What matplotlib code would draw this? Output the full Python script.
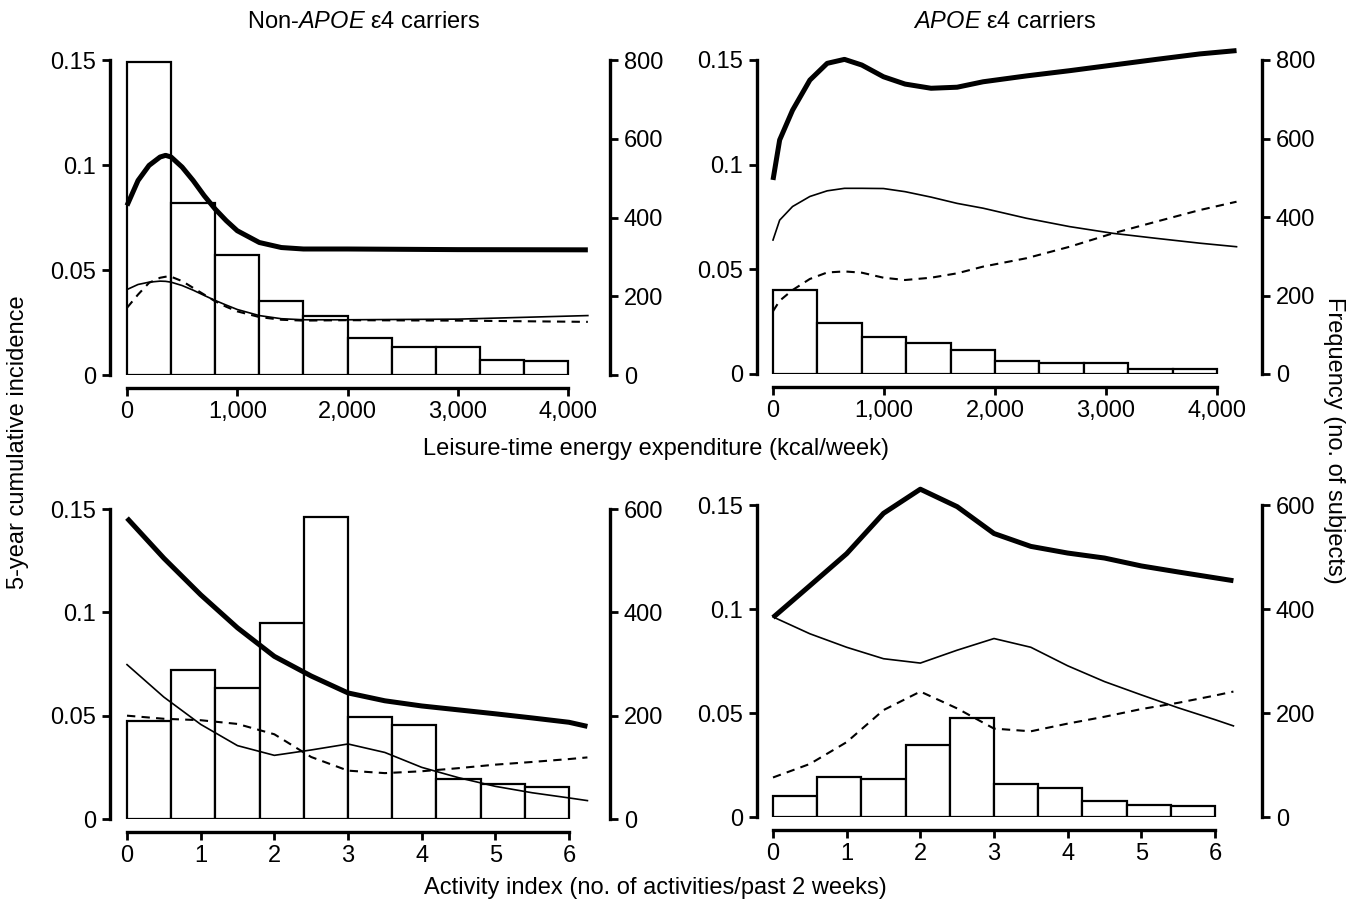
import numpy as np
import matplotlib
matplotlib.use("Agg")
import matplotlib.pyplot as plt

plt.rcParams['font.family'] = ['Liberation Sans', 'DejaVu Sans']
plt.rcParams['mathtext.fontset'] = 'custom'
plt.rcParams['mathtext.rm'] = 'Liberation Sans'
plt.rcParams['mathtext.it'] = 'Liberation Sans:italic'

# ---- leisure-time energy expenditure (kcal/week) ----
kcal_bins = [0, 400, 800, 1200, 1600, 2000, 2400, 2800, 3200, 3600]
kcal_bin_width = 400
freq_kcal_non = [795, 437, 304, 187, 149, 95, 70, 70, 38, 36]
freq_kcal_e4 = [214, 131, 94, 78, 61, 33, 27, 27, 12, 14]

kcal_x_non = [0, 100, 200, 300, 350, 400, 500, 600, 700, 800, 900, 1000, 1200, 1400, 1600, 2000, 3000, 4180]
non_all = [0.0807, 0.0926, 0.0998, 0.1038, 0.1046, 0.1038, 0.099, 0.0926, 0.0854, 0.079, 0.0735, 0.0687,
           0.0631, 0.0607, 0.060, 0.060, 0.0597, 0.0596]
non_ad = [0.0407, 0.0431, 0.0442, 0.0447, 0.0446, 0.0442, 0.0426, 0.0404, 0.0379, 0.0355, 0.0333, 0.0312,
          0.0283, 0.0268, 0.0263, 0.0263, 0.0266, 0.0283]
non_vad = [0.032, 0.0383, 0.0439, 0.0463, 0.0468, 0.0468, 0.0447, 0.0415, 0.0383, 0.0351, 0.0325, 0.0303,
           0.0276, 0.0263, 0.0259, 0.0261, 0.0259, 0.0253]

kcal_x_e4 = [0, 60, 176, 332, 488, 644, 800, 995, 1190, 1424, 1659, 1893, 2283, 2673, 3063, 3454, 3844, 4176]
e4_all = [0.0927, 0.1118, 0.126, 0.1404, 0.1484, 0.1503, 0.1476, 0.142, 0.1385, 0.1365, 0.137, 0.1396,
          0.1424, 0.1449, 0.1476, 0.1503, 0.1529, 0.1545]
e4_ad = [0.064, 0.0735, 0.080, 0.0848, 0.0875, 0.0887, 0.0887, 0.0886, 0.0871, 0.0845, 0.0815, 0.0792,
         0.0744, 0.0704, 0.0672, 0.0648, 0.0625, 0.0608]
e4_vad = [0.030, 0.035, 0.0401, 0.0454, 0.0485, 0.049, 0.0484, 0.046, 0.0449, 0.046, 0.0481, 0.0513,
          0.0553, 0.0608, 0.0672, 0.0728, 0.0783, 0.0823]

# ---- activity index (no. of activities/past 2 weeks) ----
act_bins = [0, 0.6, 1.2, 1.8, 2.4, 3.0, 3.6, 4.2, 4.8, 5.4]
act_bin_width = 0.6
freq_act_non = [190, 288, 253, 379, 584, 197, 182, 78, 67, 62]
freq_act_e4 = [40, 77, 73, 138, 190, 64, 56, 31, 23, 22]

act_x = [0, 0.5, 1.0, 1.5, 2.0, 2.5, 3.0, 3.5, 4.0, 4.5, 5.0, 5.5, 6.0, 6.25]
act_non_all = [0.1456, 0.1262, 0.1085, 0.0925, 0.0787, 0.0692, 0.061, 0.0572, 0.0547, 0.0528, 0.0509, 0.0489,
               0.0468, 0.0448]
act_non_ad = [0.0747, 0.0590, 0.0458, 0.0355, 0.0308, 0.0334, 0.0363, 0.0322, 0.0250, 0.0200, 0.0158, 0.0127,
              0.0102, 0.0089]
act_non_vad = [0.050, 0.0485, 0.0478, 0.0460, 0.0410, 0.0300, 0.0234, 0.0222, 0.0231, 0.0246, 0.0263, 0.0276,
               0.0290, 0.0298]

act_e4_all = [0.0959, 0.1112, 0.1266, 0.146, 0.1576, 0.1492, 0.1363, 0.1301, 0.1269, 0.1245, 0.1207, 0.1178,
              0.1150, 0.1136]
act_e4_ad = [0.0962, 0.0881, 0.0816, 0.0761, 0.074, 0.0802, 0.0858, 0.0816, 0.0727, 0.0651, 0.0587, 0.0525,
             0.0468, 0.0438]
act_e4_vad = [0.019, 0.0255, 0.036, 0.0514, 0.0603, 0.0522, 0.0425, 0.0412, 0.0449, 0.0482, 0.0519, 0.0549,
              0.0584, 0.0603]

fig = plt.figure(figsize=(13.55, 9), dpi=100)
W, H = 1355, 900

FS = 17


def make_panel(box, zero_px, end_px, xmax_data, xr, yr, xticks, xticklabels, rticks):
    # box = (left_px, right_px, top_px, bottom_px) of the axes; zero_px/end_px: pixel of x=0 and x=xmax_data
    lpx, rpx, tpx, bpx = box
    ax = fig.add_axes([lpx / W, 1 - bpx / H, (rpx - lpx) / W, (bpx - tpx) / H])
    scale = xmax_data / (end_px - zero_px)
    ax.set_xlim((lpx - zero_px) * scale, (rpx - zero_px) * scale)
    ax.set_ylim(0, yr)
    ax2 = ax.twinx()
    ax2.set_ylim(0, xr)
    ax.set_zorder(ax2.get_zorder() + 1)
    ax.patch.set_visible(False)
    for a in (ax, ax2):
        a.spines['top'].set_visible(False)
    ax.spines['right'].set_visible(False)
    ax2.spines['left'].set_visible(False)
    ax2.spines['bottom'].set_visible(False)
    ax.spines['bottom'].set_position(('outward', 9))
    ax.spines['bottom'].set_bounds(0, xmax_data)
    ax.spines['left'].set_bounds(0, 0.15)
    ax2.spines['right'].set_bounds(0, rticks[-1])
    for s in ('left', 'bottom'):
        ax.spines[s].set_linewidth(2.4)
    ax2.spines['right'].set_linewidth(2.4)
    ax.set_xticks(xticks)
    ax.set_xticklabels(xticklabels)
    ax.set_yticks([0, 0.05, 0.1, 0.15])
    ax.set_yticklabels(['0', '0.05', '0.1', '0.15'])
    ax2.set_yticks(rticks)
    ax.tick_params(direction='out', length=6, width=2, labelsize=FS, pad=4)
    ax2.tick_params(direction='out', length=6, width=2, labelsize=FS, pad=4)
    return ax, ax2


def draw(ax, ax2, bins, width, freq, x, all_, ad, vad):
    ax2.bar(bins, freq, width=width, align='edge', color='white', edgecolor='black', linewidth=1.6)
    ax.plot(x, all_, color='black', lw=3.6, solid_capstyle='butt', clip_on=False)
    ax.plot(x, ad, color='black', lw=1.2, clip_on=False)
    ax.plot(x, vad, color='black', lw=1.5, ls=(0, (4, 3)), clip_on=False)


kcal_ticks = [0, 1000, 2000, 3000, 4000]
kcal_labels = ['0', '1,000', '2,000', '3,000', '4,000']
act_ticks = [0, 1, 2, 3, 4, 5, 6]
act_labels = [str(t) for t in act_ticks]

ax, ax2 = make_panel((110, 610, 60, 375), 127, 568, 4000, 800, 0.15, kcal_ticks, kcal_labels, [0, 200, 400, 600, 800])
draw(ax, ax2, kcal_bins, kcal_bin_width, freq_kcal_non, kcal_x_non, non_all, non_ad, non_vad)

ax, ax2 = make_panel((757, 1262, 60, 374), 773, 1217, 4000, 800, 0.15, kcal_ticks, kcal_labels, [0, 200, 400, 600, 800])
draw(ax, ax2, kcal_bins, kcal_bin_width, freq_kcal_e4, kcal_x_e4, e4_all, e4_ad, e4_vad)

ax, ax2 = make_panel((110, 610, 509, 819), 127, 569, 6, 600, 0.15, act_ticks, act_labels, [0, 200, 400, 600])
draw(ax, ax2, act_bins, act_bin_width, freq_act_non, act_x, act_non_all, act_non_ad, act_non_vad)

ax, ax2 = make_panel((757, 1262, 505, 817), 773, 1215, 6, 600, 0.15, act_ticks, act_labels, [0, 200, 400, 600])
draw(ax, ax2, act_bins, act_bin_width, freq_act_e4, act_x, act_e4_all, act_e4_ad, act_e4_vad)

fig.text(364 / W, 1 - 22 / H, r'Non-$\mathit{APOE}$ ε4 carriers', ha='center', va='center', fontsize=FS)
fig.text(1005 / W, 1 - 22 / H, r'$\mathit{APOE}$ ε4 carriers', ha='center', va='center', fontsize=FS)
fig.text(656 / W, 1 - 449 / H, 'Leisure-time energy expenditure (kcal/week)', ha='center', va='center', fontsize=FS)
fig.text(655 / W, 1 - 888 / H, 'Activity index (no. of activities/past 2 weeks)', ha='center', va='center', fontsize=FS)
fig.text(18 / W, 1 - 442 / H, '5-year cumulative incidence', rotation=90, ha='center', va='center', fontsize=FS)
fig.text(1334 / W, 1 - 440 / H, 'Frequency (no. of subjects)', rotation=270, ha='center', va='center', fontsize=FS)

fig.savefig('out.png', dpi=100)
